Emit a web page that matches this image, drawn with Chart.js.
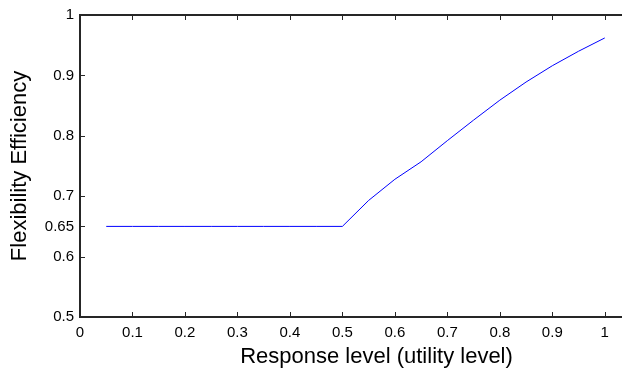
<!DOCTYPE html>
<html>
<head>
<meta charset="utf-8">
<script src="https://cdn.jsdelivr.net/npm/chart.js@4"></script>
<style>
  html, body { margin: 0; padding: 0; background: #fff; overflow: hidden; }
  /* the original figure is cropped on the right, so the axes run past the window */
  #wrap { position: relative; width: 673px; height: 371px; }
</style>
</head>
<body>
<div id="wrap"><canvas id="chart"></canvas></div>
<script>
// ---- data ------------------------------------------------------------
const responseLevel = [0.05, 0.1, 0.15, 0.2, 0.25, 0.3, 0.35, 0.4, 0.45, 0.5,
                       0.55, 0.6, 0.65, 0.7, 0.75, 0.8, 0.85, 0.9, 0.95, 1.0];
const efficiency    = [0.65, 0.65, 0.65, 0.65, 0.65, 0.65, 0.65, 0.65, 0.65, 0.65,
                       0.693, 0.728, 0.757, 0.792, 0.826, 0.859, 0.889, 0.916, 0.940, 0.962];
const xTicks = [0, 0.1, 0.2, 0.3, 0.4, 0.5, 0.6, 0.7, 0.8, 0.9, 1];
const yTicks = [0.5, 0.6, 0.65, 0.7, 0.8, 0.9, 1];

const FONT = "'Liberation Sans', Arial, sans-serif";
const AXIS = '#262626';

// MATLAB-like tick text: 1, 0.9, 0.65 (no trailing zeros)
const fmt = (v) => String(+Number(v).toFixed(2));

// MATLAB-style box top + inward tick marks
const matlabTicks = {
  id: 'matlabTicks',
  afterDraw(chart) {
    const { ctx, chartArea: a, scales: { x, y } } = chart;
    ctx.save();
    ctx.strokeStyle = AXIS;
    ctx.lineWidth = 2;
    ctx.beginPath();
    ctx.moveTo(a.left, a.top);
    ctx.lineTo(a.right, a.top);
    ctx.stroke();

    ctx.lineWidth = 1;
    ctx.beginPath();
    xTicks.forEach(v => {
      const px = Math.round(x.getPixelForValue(v)) + 0.5;
      ctx.moveTo(px, a.bottom); ctx.lineTo(px, a.bottom - 5);
      ctx.moveTo(px, a.top);    ctx.lineTo(px, a.top + 5);
    });
    yTicks.forEach(v => {
      const py = Math.round(y.getPixelForValue(v)) + 0.5;
      ctx.moveTo(a.left, py); ctx.lineTo(a.left + 5, py);
    });
    ctx.stroke();
    ctx.restore();
  }
};

new Chart(document.getElementById('chart'), {
  type: 'line',
  data: {
    datasets: [{
      data: responseLevel.map((v, i) => ({ x: v, y: efficiency[i] })),
      borderColor: '#0000ff',
      borderWidth: 1,
      pointRadius: 0,
      tension: 0,
      fill: false,
    }],
  },
  options: {
    responsive: true,
    maintainAspectRatio: false,
    animation: false,
    layout: { padding: { left: 0, top: 15, right: 0, bottom: 0 } },
    plugins: { legend: { display: false }, tooltip: { enabled: false } },
    scales: {
      x: {
        type: 'linear',
        min: 0,
        max: 1.13,
        afterBuildTicks: (s) => { s.ticks = xTicks.map(v => ({ value: v })); },
        afterFit: (s) => { s.height = 54; s.paddingLeft = 0; s.paddingRight = 0; },
        grid: { drawOnChartArea: false, drawTicks: false },
        border: { display: true, color: AXIS, width: 2 },
        ticks: { color: '#000', padding: 7, maxRotation: 0, font: { family: FONT, size: 15 }, callback: fmt },
        title: {
          display: true,
          text: 'Response level (utility level)',
          color: '#000',
          font: { family: FONT, size: 22 },
          padding: { top: 0, bottom: 1 },
        },
      },
      y: {
        type: 'linear',
        min: 0.5,
        max: 1,
        afterBuildTicks: (s) => { s.ticks = yTicks.map(v => ({ value: v })); },
        afterFit: (s) => { s.width = 80; s.paddingTop = 0; s.paddingBottom = 0; },
        grid: { drawOnChartArea: false, drawTicks: false },
        border: { display: true, color: AXIS, width: 2 },
        ticks: { color: '#000', padding: 6, font: { family: FONT, size: 15 }, callback: fmt },
        title: {
          display: true,
          text: 'Flexibility Efficiency',
          color: '#000',
          font: { family: FONT, size: 22 },
          padding: { top: 7, bottom: 0 },
        },
      },
    },
  },
  plugins: [matlabTicks],
});
</script>
</body>
</html>
